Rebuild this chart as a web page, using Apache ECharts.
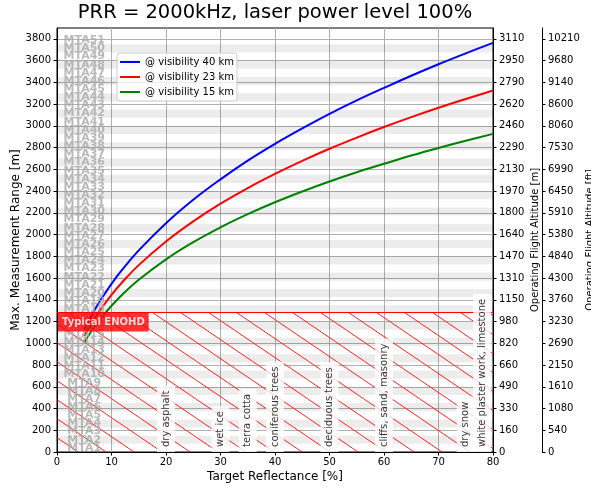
<!DOCTYPE html>
<html><head><meta charset="utf-8">
<script src="https://cdn.jsdelivr.net/npm/echarts@6/dist/echarts.min.js"></script>
<style>html,body{margin:0;padding:0;background:#fff}#c{width:591px;height:488px}</style>
</head><body><div id="c"></div>
<script>
// ---------------- data ----------------
const reflectance = [5,6,7,8,10,12,15,20,25,30,35,40,45,50,55,60,65,70,75,80];
const range40 = [1125,1224,1315,1398,1547,1679,1855,2105,2320,2508,2680,2834,2976,3110,3234,3349,3461,3567,3667,3763];
const range23 = [1065,1156,1237,1312,1446,1564,1719,1936,2121,2284,2428,2558,2678,2789,2892,2989,3080,3166,3247,3325];
const range15 = [1007,1088,1161,1227,1345,1449,1584,1772,1930,2067,2188,2297,2396,2488,2573,2651,2727,2797,2863,2926];
const seriesNames = ['@ visibility 40 km','@ visibility 23 km','@ visibility 15 km'];
const seriesColors = ['#0000ff','#ff0000','#008000'];
const rangeTicks = [0,200,400,600,800,1000,1200,1400,1600,1800,2000,2200,2400,2600,2800,3000,3200,3400,3600,3800];
const altitudeM = ['0','160','330','490','660','820','980','1150','1310','1470','1640','1800','1970','2130','2290','2460','2620','2790','2950','3110'];
const altitudeFt = ['0','540','1080','1610','2150','2690','3230','3760','4300','4840','5380','5910','6450','6990','7530','8060','8600','9140','9680','10210'];
const mtaZoneWidth = 75;
const mtaCount = 51;
const mtaLabelX = 5;
const enohd = 1282;
const materials = ['dry asphalt','wet ice','terra cotta','coniferous trees','deciduous trees','cliffs, sand, masonry','dry snow','white plaster work, limestone'];
const materialReflectance = [20,30,35,40,50,60,75,78];
const xMin = 0, xMax = 80, yMin = 0, yMax = 3900;

// ---------------- build ----------------
const FONT = 'DejaVu Sans';
const zip = (xs, ys) => xs.map((x, i) => [x, ys[i]]);

const mtaLabels = [];
const bands = [];
for (let n = 1; n <= mtaCount; n++) {
  mtaLabels.push([mtaLabelX, (n - 0.5) * mtaZoneWidth, 'MTA' + n]);
  if (n % 2 === 0) bands.push([{xAxis: xMin, yAxis: (n - 1) * mtaZoneWidth}, {xAxis: xMax, yAxis: n * mtaZoneWidth}]);
}

function hatch() {
  const w = 28, h = 19;
  const c = document.createElement('canvas');
  c.width = w; c.height = h;
  const ctx = c.getContext('2d');
  ctx.strokeStyle = '#ff2020';
  ctx.lineWidth = 1;
  for (const dx of [-w, 0, w]) {
    ctx.beginPath(); ctx.moveTo(dx, 0); ctx.lineTo(dx + w, h); ctx.stroke();
  }
  return c;
}

const GRID = {left: 57, right: 98, top: 28, bottom: 36};
const chart = echarts.init(document.getElementById('c'), null, {renderer: 'canvas'});
const baseY = {
  type: 'value', min: yMin, max: yMax, interval: 200,
  axisLine: {show: true, lineStyle: {color: '#000', width: 1}},
  axisTick: {show: true, length: 3.5, lineStyle: {color: '#000'}, customValues: rangeTicks},
  nameTextStyle: {fontFamily: FONT, color: '#000'},
  nameLocation: 'middle', nameRotate: 90, nameMoveOverlap: false
};
const curveSeries = [range40, range23, range15].map((r, i) => ({
  name: seriesNames[i], type: 'line', data: zip(reflectance, r),
  showSymbol: false, smooth: 0.4, z: 3,
  lineStyle: {color: seriesColors[i], width: 2}, itemStyle: {color: seriesColors[i]}
}));

chart.setOption({
  animation: false,
  textStyle: {fontFamily: FONT},
  title: {
    text: 'PRR = 2000kHz, laser power level 100%',
    left: GRID.left + (591 - GRID.left - GRID.right) / 2, top: 3, textAlign: 'center',
    padding: 0,
    textStyle: {fontFamily: FONT, fontSize: 19.5, fontWeight: 'normal', color: '#000'}
  },
  grid: Object.assign({show: true, borderColor: '#000', borderWidth: 1, outerBoundsMode: 'none', containLabel: false}, GRID),
  legend: {
    data: seriesNames, orient: 'vertical', left: 117, top: 53,
    itemWidth: 20, itemHeight: 2, itemGap: 3, icon: 'rect',
    padding: [3, 3, 3, 3], backgroundColor: 'rgba(255,255,255,0.8)',
    borderColor: '#cccccc', borderWidth: 1, borderRadius: 3,
    textStyle: {fontFamily: FONT, fontSize: 10, color: '#000', lineHeight: 12}
  },
  xAxis: {
    type: 'value', min: xMin, max: xMax, interval: 10,
    name: 'Target Reflectance [%]', nameLocation: 'middle', nameGap: 19, nameMoveOverlap: false,
    nameTextStyle: {fontFamily: FONT, fontSize: 12, color: '#000'},
    axisLine: {show: true, lineStyle: {color: '#000'}},
    axisTick: {show: true, length: 3.5, lineStyle: {color: '#000'}},
    axisLabel: {fontFamily: FONT, fontSize: 10, color: '#000', margin: 5, formatter: v => String(v)},
    splitLine: {show: true, lineStyle: {color: '#b0b0b0', width: 1}}
  },
  yAxis: [
    Object.assign({}, baseY, {
      position: 'left', name: 'Max. Measurement Range [m]', nameGap: 35,
      nameTextStyle: {fontFamily: FONT, fontSize: 12, color: '#000'},
      axisLabel: {fontFamily: FONT, fontSize: 10, color: '#000', margin: 6, customValues: rangeTicks,
        formatter: v => String(v)},
      splitLine: {show: true, lineStyle: {color: '#b0b0b0', width: 1}}
    }),
    Object.assign({}, baseY, {
      position: 'right', offset: 0, name: 'Operating Flight Altitude [m]', nameGap: 37,
      nameTextStyle: {fontFamily: FONT, fontSize: 10, color: '#000'},
      axisLabel: {fontFamily: FONT, fontSize: 10, color: '#000', margin: 6, customValues: rangeTicks,
        formatter: v => { const i = rangeTicks.indexOf(v); return i >= 0 ? altitudeM[i] : ''; }},
      splitLine: {show: false}
    }),
    Object.assign({}, baseY, {
      position: 'right', offset: 49, name: 'Operating Flight Altitude [ft]', nameGap: 43,
      nameTextStyle: {fontFamily: FONT, fontSize: 10, color: '#000'},
      axisLabel: {fontFamily: FONT, fontSize: 10, color: '#000', margin: 6, customValues: rangeTicks,
        formatter: v => { const i = rangeTicks.indexOf(v); return i >= 0 ? altitudeFt[i] : ''; }},
      splitLine: {show: false}
    })
  ],
  series: [
    {
      type: 'line', data: [], z: 1, silent: true,
      markArea: {silent: true, itemStyle: {color: 'rgba(0,0,0,0.075)'}, data: bands}
    },
    {
      type: 'line', data: [], z: 2, silent: true,
      markArea: {silent: true, itemStyle: {color: {image: hatch(), repeat: 'repeat'}},
        data: [[{xAxis: xMin, yAxis: yMin}, {xAxis: xMax, yAxis: enohd}]]},
      markLine: {silent: true, symbol: 'none', label: {show: false},
        lineStyle: {color: '#ff0000', width: 1, type: 'solid'}, data: [{yAxis: enohd}]}
    },
    ...curveSeries,
    {
      type: 'scatter', data: mtaLabels, symbolSize: 0, z: 4, silent: true,
      label: {show: true, position: 'inside', formatter: p => p.data[2],
        fontFamily: FONT, fontSize: 11, fontWeight: 'bold', color: '#a6a6a6',
        align: 'center', verticalAlign: 'middle'}
    },
    {
      type: 'scatter', data: materialReflectance.map((x, i) => [x, yMin, materials[i]]),
      symbolSize: 0, z: 5, silent: true,
      label: {show: true, position: [0, 0], rotate: 90, formatter: p => p.data[2],
        align: 'left', verticalAlign: 'middle',
        fontFamily: FONT, fontSize: 10, color: '#000',
        backgroundColor: '#ffffff', padding: [4, 5, 4, 5]}
    },
    {
      type: 'scatter', data: [[xMin, enohd, 'Typical ENOHD']], symbolSize: 0, z: 6, silent: true,
      label: {show: true, position: [1, 0], formatter: p => p.data[2],
        align: 'left', verticalAlign: 'top',
        fontFamily: FONT, fontSize: 10, fontWeight: 'bold', color: '#ffffff',
        backgroundColor: '#ff0000', padding: [5, 4, 4, 4]}
    }
  ]
});
</script></body></html>
